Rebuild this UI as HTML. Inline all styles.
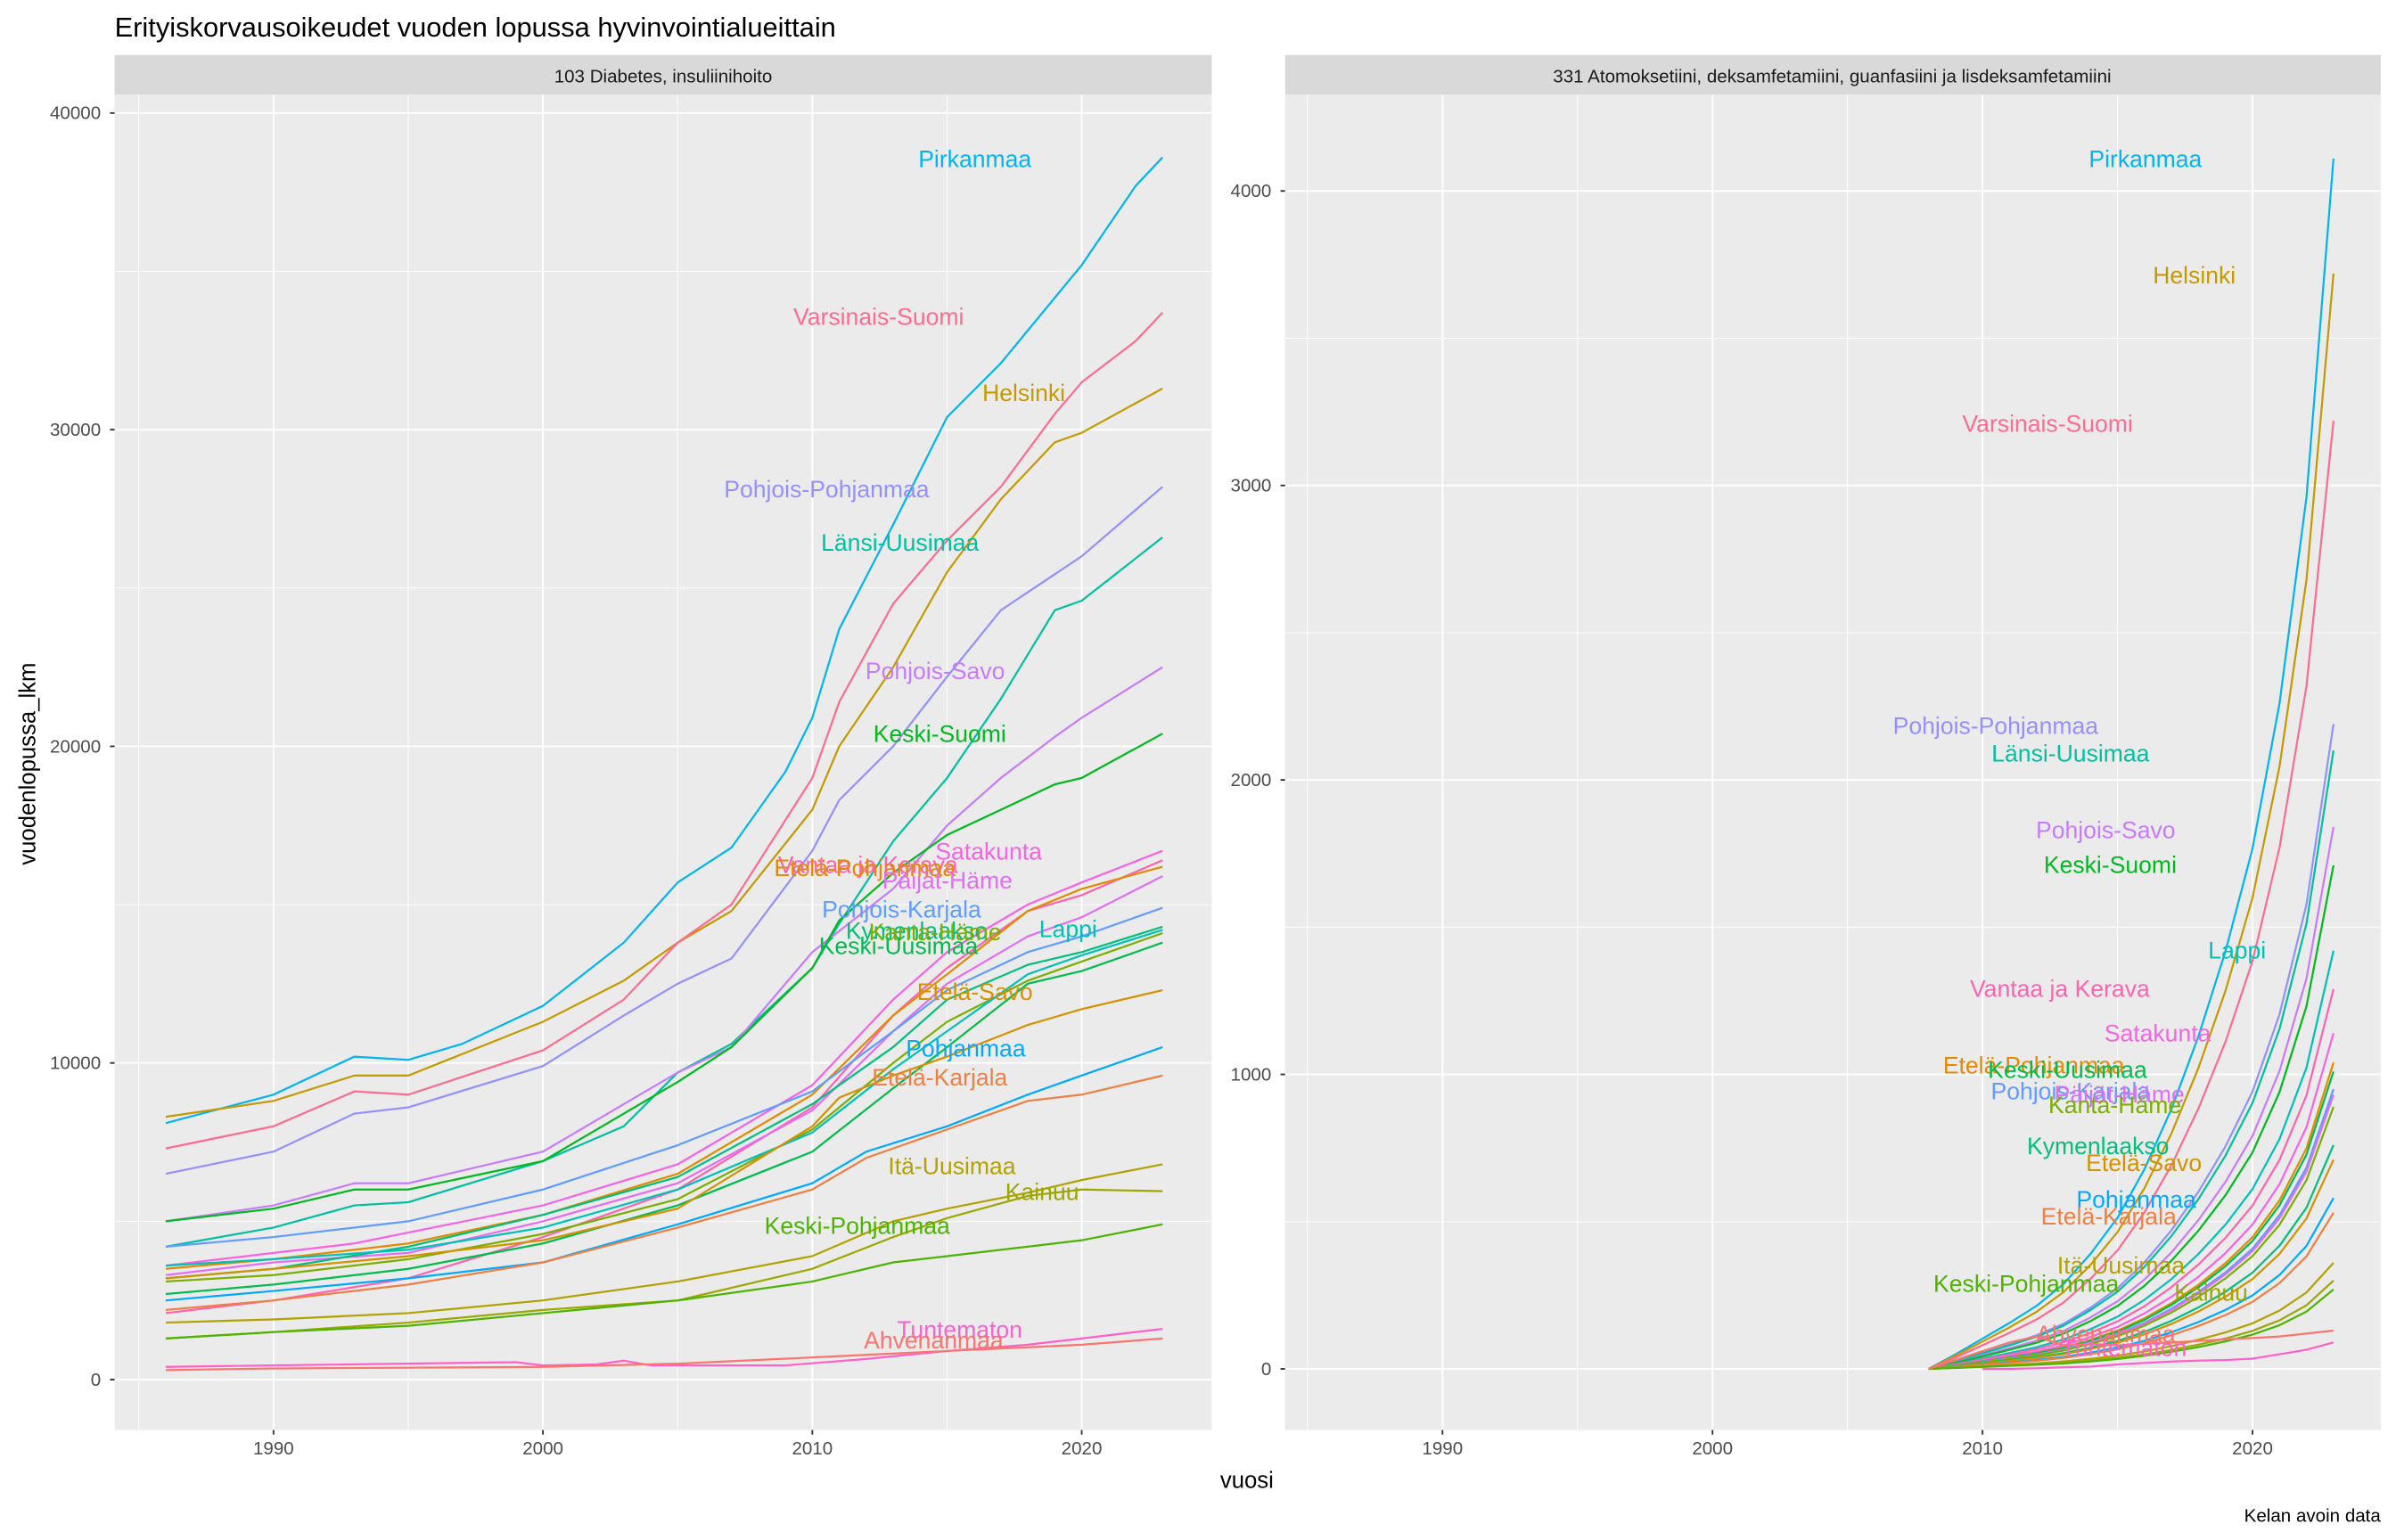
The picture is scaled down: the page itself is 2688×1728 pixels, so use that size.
<!DOCTYPE html>
<html><head><meta charset="utf-8"><style>html,body{margin:0;padding:0;background:#fff}svg{display:block}</style></head>
<body>
<svg id="s" width="2688" height="1728" viewBox="0 0 1568 1008" xmlns="http://www.w3.org/2000/svg" font-family="Liberation Sans, sans-serif">
<rect width="1568" height="1008" fill="#fff"/>
<text x="75" y="24" font-size="18" fill="#000">Erityiskorvausoikeudet vuoden lopussa hyvinvointialueittain</text>
<rect x="75" y="36" width="718" height="26" fill="#d9d9d9"/>
<text x="434" y="54" font-size="12" fill="#1a1a1a" text-anchor="middle">103 Diabetes, insuliinihoito</text>
<rect x="841" y="36" width="717" height="26" fill="#d9d9d9"/>
<text x="1199" y="54" font-size="12" fill="#1a1a1a" text-anchor="middle">331 Atomoksetiini, deksamfetamiini, guanfasiini ja lisdeksamfetamiini</text>
<rect x="75" y="62" width="718" height="874" fill="#ebebeb"/>
<rect x="841" y="62" width="717" height="874" fill="#ebebeb"/>
<g id="g"></g>
<text x="816" y="974" font-size="15" fill="#000" text-anchor="middle">vuosi</text>
<text transform="translate(23,500) rotate(-90)" font-size="15" fill="#000" text-anchor="middle">vuodenlopussa_lkm</text>
<text x="1558" y="996" font-size="12" fill="#000" text-anchor="end">Kelan avoin data</text>
</svg>
<script>
const g=document.getElementById('g');let h='';
const C={"Ahvenanmaa":"#F8766D","Etelä-Karjala":"#EE8044","Etelä-Pohjanmaa":"#E28A00","Etelä-Savo":"#D49200","Helsinki":"#C49A00","Itä-Uusimaa":"#B2A100","Kainuu":"#9DA700","Kanta-Häme":"#7CAE00","Keski-Pohjanmaa":"#4CB400","Keski-Suomi":"#00B81F","Keski-Uusimaa":"#00BB4E","Kymenlaakso":"#00BF7D","Lappi":"#00C0B8","Länsi-Uusimaa":"#00BFA0","Pirkanmaa":"#00B4EF","Pohjanmaa":"#00A9FF","Pohjois-Karjala":"#619CFF","Pohjois-Pohjanmaa":"#9590FF","Pohjois-Savo":"#C77CFF","Päijät-Häme":"#E36EF6","Satakunta":"#F564E3","Tuntematon":"#FF61C9","Vantaa ja Kerava":"#FF64B0","Varsinais-Suomi":"#FF6C91"};
// panels
const L={x0:75,x1:793,xa:179-17.63*1990,xb:17.63,y0:903,ys:207.25/10000,ymaj:[0,10000,20000,30000,40000],ymin:[5000,15000,25000,35000],tx:66};
const R={x0:841,x1:1558,xa:944-17.67*1990,xb:17.67,y0:896,ys:192.75/1000,ymaj:[0,1000,2000,3000,4000],ymin:[500,1500,2500,3500],tx:832};
function grid(P){
 for(const v of P.ymin){const y=P.y0-v*P.ys;h+=`<line x1="${P.x0}" x2="${P.x1}" y1="${y}" y2="${y}" stroke="#fff" stroke-width="0.55"/>`;}
 for(const yr of [1985,1995,2005,2015]){const x=P.xa+P.xb*yr;h+=`<line x1="${x}" x2="${x}" y1="62" y2="936" stroke="#fff" stroke-width="0.55"/>`;}
 for(const v of P.ymaj){const y=P.y0-v*P.ys;h+=`<line x1="${P.x0}" x2="${P.x1}" y1="${y}" y2="${y}" stroke="#fff" stroke-width="1.1"/><line x1="${P.x0-3}" x2="${P.x0}" y1="${y}" y2="${y}" stroke="#333" stroke-width="1.1"/><text x="${P.tx}" y="${y+4}" font-size="12" fill="#4d4d4d" text-anchor="end">${v}</text>`;}
 for(const yr of [1990,2000,2010,2020]){const x=P.xa+P.xb*yr;h+=`<line x1="${x}" x2="${x}" y1="62" y2="936" stroke="#fff" stroke-width="1.1"/><line x1="${x}" x2="${x}" y1="936" y2="939" stroke="#333" stroke-width="1.1"/><text x="${x}" y="952" font-size="12" fill="#4d4d4d" text-anchor="middle">${yr}</text>`;}
}
grid(L);grid(R);
const D={
"Pirkanmaa":[[1986,8100],[1990,9000],[1993,10200],[1995,10100],[1997,10600],[2000,11800],[2003,13800],[2005,15700],[2007,16800],[2009,19200],[2010,20900],[2011,23700],[2013,27000],[2015,30400],[2017,32100],[2020,35200],[2022,37700],[2023,38600]],
"Helsinki":[[1986,8300],[1990,8800],[1993,9600],[1995,9600],[2000,11300],[2003,12600],[2005,13800],[2007,14800],[2010,18000],[2011,20000],[2013,22500],[2015,25500],[2017,27800],[2019,29600],[2020,29900],[2023,31300]],
"Varsinais-Suomi":[[1986,7300],[1990,8000],[1993,9100],[1995,9000],[2000,10400],[2003,12000],[2005,13800],[2007,15000],[2010,19000],[2011,21400],[2013,24500],[2015,26500],[2017,28200],[2019,30500],[2020,31500],[2022,32800],[2023,33700]],
"Pohjois-Pohjanmaa":[[1986,6500],[1990,7200],[1993,8400],[1995,8600],[2000,9900],[2003,11500],[2005,12500],[2007,13300],[2010,16700],[2011,18300],[2013,20000],[2015,22200],[2017,24300],[2020,26000],[2023,28200]],
"Länsi-Uusimaa":[[1986,4200],[1990,4800],[1993,5500],[1995,5600],[2000,6900],[2003,8000],[2005,9700],[2007,10600],[2010,13000],[2011,14400],[2013,17000],[2015,19000],[2017,21500],[2019,24300],[2020,24600],[2023,26600]],
"Pohjois-Savo":[[1986,5000],[1990,5500],[1993,6200],[1995,6200],[2000,7200],[2005,9700],[2007,10500],[2010,13500],[2013,15500],[2015,17500],[2017,19000],[2019,20300],[2020,20900],[2023,22500]],
"Keski-Suomi":[[1986,5000],[1990,5400],[1993,6000],[1995,6000],[2000,6900],[2005,9400],[2007,10500],[2010,13000],[2011,14500],[2013,16000],[2015,17200],[2017,18000],[2019,18800],[2020,19000],[2023,20400]],
"Satakunta":[[1986,3600],[1990,4000],[1993,4300],[2000,5500],[2005,6800],[2010,9300],[2013,12000],[2015,13500],[2018,15000],[2020,15700],[2023,16700]],
"Vantaa ja Kerava":[[1986,2100],[1990,2500],[1995,3200],[2000,4500],[2005,6000],[2010,8600],[2013,11500],[2015,13000],[2018,14800],[2020,15300],[2023,16400]],
"Etelä-Pohjanmaa":[[1986,3500],[1990,3800],[1995,4300],[2000,5200],[2005,6500],[2010,9000],[2013,11500],[2015,12800],[2018,14800],[2020,15500],[2023,16200]],
"Päijät-Häme":[[1986,3300],[1990,3700],[1995,4000],[2000,5000],[2005,6200],[2010,8500],[2013,11000],[2015,12500],[2018,14000],[2020,14600],[2023,15900]],
"Pohjois-Karjala":[[1986,4200],[1990,4500],[1995,5000],[2000,6000],[2005,7400],[2010,9100],[2013,11000],[2015,12300],[2018,13500],[2020,14000],[2023,14900]],
"Kymenlaakso":[[1986,3200],[1990,3500],[1995,4200],[2000,5200],[2005,6400],[2010,8700],[2013,10500],[2015,12000],[2018,13100],[2020,13500],[2023,14300]],
"Kanta-Häme":[[1986,3100],[1990,3300],[1995,3800],[2000,4600],[2005,5700],[2010,7900],[2013,10000],[2015,11300],[2018,12600],[2020,13200],[2023,14100]],
"Lappi":[[1986,3600],[1990,3800],[1995,4100],[2000,4800],[2005,6000],[2010,7800],[2013,9800],[2015,11000],[2018,12800],[2020,13400],[2023,14200]],
"Keski-Uusimaa":[[1986,2700],[1990,3000],[1995,3500],[2000,4300],[2005,5500],[2010,7200],[2013,9200],[2015,10500],[2018,12500],[2020,12900],[2023,13800]],
"Etelä-Savo":[[1986,3200],[1990,3500],[1995,3900],[2000,4400],[2005,5400],[2010,8000],[2011,8900],[2013,9600],[2015,10200],[2018,11200],[2020,11700],[2023,12300]],
"Pohjanmaa":[[1986,2500],[1990,2800],[1995,3200],[2000,3700],[2005,4900],[2010,6200],[2012,7200],[2015,8000],[2018,9000],[2020,9600],[2023,10500]],
"Etelä-Karjala":[[1986,2200],[1990,2500],[1995,3000],[2000,3700],[2005,4800],[2010,6000],[2012,7000],[2015,7900],[2018,8800],[2020,9000],[2023,9600]],
"Itä-Uusimaa":[[1986,1800],[1990,1900],[1995,2100],[2000,2500],[2005,3100],[2010,3900],[2013,5000],[2015,5400],[2018,5900],[2020,6300],[2023,6800]],
"Kainuu":[[1986,1300],[1990,1500],[1995,1800],[2000,2200],[2005,2500],[2010,3500],[2013,4500],[2015,5100],[2018,5800],[2020,6000],[2023,5950]],
"Keski-Pohjanmaa":[[1986,1300],[1990,1500],[1995,1700],[2000,2100],[2005,2500],[2010,3100],[2013,3700],[2015,3900],[2018,4200],[2020,4400],[2023,4900]],
"Tuntematon":[[1986,400],[1990,450],[1999,550],[2000,450],[2002,480],[2003,600],[2004,450],[2009,450],[2012,650],[2015,900],[2018,1100],[2020,1300],[2023,1600]],
"Ahvenanmaa":[[1986,300],[1990,350],[2000,400],[2005,500],[2010,700],[2015,900],[2020,1100],[2023,1300]]};
const F={"Pirkanmaa":4110,"Helsinki":3720,"Varsinais-Suomi":3220,"Pohjois-Pohjanmaa":2190,"Länsi-Uusimaa":2100,"Pohjois-Savo":1840,"Keski-Suomi":1710,"Lappi":1420,"Vantaa ja Kerava":1290,"Satakunta":1140,"Etelä-Pohjanmaa":1040,"Keski-Uusimaa":1010,"Pohjois-Karjala":950,"Päijät-Häme":930,"Kanta-Häme":890,"Kymenlaakso":760,"Etelä-Savo":710,"Pohjanmaa":580,"Etelä-Karjala":530,"Itä-Uusimaa":360,"Kainuu":300,"Keski-Pohjanmaa":270,"Ahvenanmaa":130,"Tuntematon":90};
const f=[0,0.012,0.025,0.038,0.052,0.07,0.095,0.125,0.165,0.215,0.275,0.345,0.43,0.55,0.72,1.0];
function path(P,pts,c){return `<polyline fill="none" stroke="${c}" stroke-width="1.3" points="${pts.map(p=>(P.xa+P.xb*p[0]).toFixed(1)+','+(P.y0-p[1]*P.ys).toFixed(1)).join(' ')}"/>`;}
for(const k in D)h+=path(L,D[k],C[k]);
for(const k in F){let pts=[];for(let i=0;i<16;i++){let v=F[k]*f[i];if(k=="Ahvenanmaa")v=[0,30,60,90,110,80,85,80,85,90,95,100,105,110,120,130][i];if(k=="Tuntematon"){if(i<2)continue;v=[0,0,0,0,2,5,8,15,20,25,28,30,35,50,65,90][i];}pts.push([2008+i,v]);}h+=path(R,pts,C[k]);}
const LL=[["Pirkanmaa",638,104],["Varsinais-Suomi",575,207],["Helsinki",670,257],["Pohjois-Pohjanmaa",541,320],["Länsi-Uusimaa",589,355],["Pohjois-Savo",612,439],["Keski-Suomi",615,480],["Satakunta",647,557],["Vantaa ja Kerava",568,566],["Etelä-Pohjanmaa",566,568],["Päijät-Häme",620,576],["Pohjois-Karjala",590,595],["Kymenlaakso",600,609],["Kanta-Häme",612,610],["Lappi",699,608],["Keski-Uusimaa",588,619],["Etelä-Savo",638,649],["Pohjanmaa",632,686],["Etelä-Karjala",615,705],["Itä-Uusimaa",623,763],["Kainuu",682,780],["Keski-Pohjanmaa",561,802],["Tuntematon",628,870],["Ahvenanmaa",611,877],
["Pirkanmaa",1404,104],["Helsinki",1436,180],["Varsinais-Suomi",1340,277],["Pohjois-Pohjanmaa",1306,475],["Länsi-Uusimaa",1355,493],["Pohjois-Savo",1378,543],["Keski-Suomi",1381,566],["Lappi",1464,622],["Vantaa ja Kerava",1348,647],["Satakunta",1412,676],["Etelä-Pohjanmaa",1331,697],["Keski-Uusimaa",1353,700],["Pohjois-Karjala",1355,714],["Päijät-Häme",1387,716],["Kanta-Häme",1384,723],["Kymenlaakso",1373,750],["Etelä-Savo",1403,761],["Pohjanmaa",1398,785],["Etelä-Karjala",1380,796],["Itä-Uusimaa",1388,828],["Kainuu",1447,846],["Keski-Pohjanmaa",1326,840],["Ahvenanmaa",1378,873],["Tuntematon",1390,882]];
for(const [k,x,y] of LL)h+=`<text x="${x}" y="${y+5.5}" font-size="15.5" fill="${C[k]}" text-anchor="middle">${k}</text>`;
g.innerHTML=h;
</script>
</body></html>
